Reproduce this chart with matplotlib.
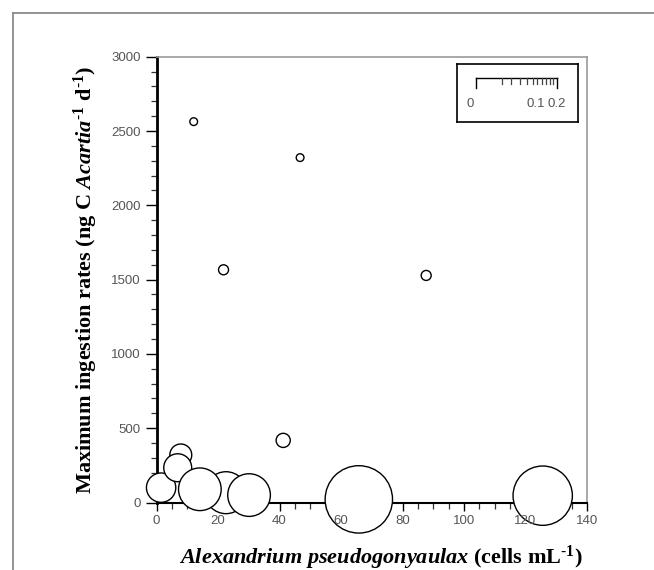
import matplotlib
matplotlib.use("Agg")
import matplotlib.pyplot as plt
from matplotlib.lines import Line2D
import numpy as np

# ---------------- data ----------------
cells = [22.6, 7.9, 1.5, 6.9, 14.1, 30.1, 65.8, 125.6, 41.2, 12.1, 46.7, 21.8, 87.7]
ingestion = [66, 320, 100, 234, 89, 50, 21, 46, 418, 2563, 2321, 1566, 1528]
bubble_value = [0.088, 0.024, 0.043, 0.039, 0.091, 0.091, 0.227, 0.176,
                0.010, 0.003, 0.003, 0.005, 0.005]

x_ticks = [0, 20, 40, 60, 80, 100, 120, 140]
y_ticks = [0, 500, 1000, 1500, 2000, 2500, 3000]
legend_labels = ["0", "0.1", "0.2"]

# ---------------- styling ----------------
plt.rcParams["mathtext.fontset"] = "custom"
plt.rcParams["mathtext.rm"] = "Liberation Serif:bold"
plt.rcParams["mathtext.it"] = "Liberation Serif:italic:bold"
plt.rcParams["mathtext.bf"] = "Liberation Serif:bold"

W, H = 654, 570
fig = plt.figure(figsize=(W / 100, H / 100), dpi=100)
fig.patch.set_facecolor("white")

# outer frame (top and left lines)
fig.add_artist(Line2D([13 / W, 1.0], [1 - 13 / H, 1 - 13 / H], color="#8a8a8a", lw=1.3))
fig.add_artist(Line2D([13 / W, 13 / W], [0, 1 - 13 / H], color="#8a8a8a", lw=1.3))

ax = fig.add_axes([156.5 / W, 1 - 502.5 / H, (587 - 156.5) / W, (502.5 - 56.7) / H])
ax.set_xlim(0, 140)
ax.set_ylim(0, 3000)

sizes = [v * 10368 for v in bubble_value]
ax.scatter(cells, ingestion, s=sizes, facecolor="white", edgecolor="black",
           linewidths=1.0, zorder=3, clip_on=False)

ax.set_xticks(x_ticks)
ax.set_yticks(y_ticks)
ax.set_xticks(np.arange(0, 141, 5), minor=True)
ax.set_yticks(np.arange(0, 3001, 100), minor=True)
ax.tick_params(axis="both", which="major", direction="out", colors="black",
               labelcolor="#555555", labelsize=9.5, width=1.0)
ax.tick_params(axis="y", which="major", length=8)
ax.tick_params(axis="x", which="major", length=6, labelbottom=False)
ax.tick_params(axis="both", which="minor", direction="out", length=4, width=0.9, colors="#333333")
for lab in ax.get_yticklabels():
    lab.set_fontfamily("Liberation Sans")

# x tick labels as texts drawn above the bubbles
for xt in x_ticks:
    ax.annotate(str(xt), xy=(xt, 0), xycoords=("data", "axes fraction"),
                xytext=(0, -13), textcoords="offset points", ha="center", va="center",
                fontsize=9.5, color="#555555", fontfamily="Liberation Sans",
                zorder=5, annotation_clip=False)

ax.spines["left"].set_linewidth(2.0)
ax.spines["bottom"].set_linewidth(1.5)
for s in ("top", "right"):
    ax.spines[s].set_color("#9a9a9a")
    ax.spines[s].set_linewidth(1.2)

ax.set_xlabel("$\\mathit{Alexandrium\\ pseudogonyaulax}$ (cells mL$^{\u20101}$)",
              fontfamily="Liberation Serif", fontweight="bold", fontsize=16, labelpad=22)
ax.xaxis.label.set_x(0.52)
ax.set_ylabel("Maximum ingestion rates (ng C $\\mathit{Acartia}^{\u20101}$ d$^{\u20101}$)",
              fontfamily="Liberation Serif", fontweight="bold", fontsize=16, labelpad=8)

# ---------------- size legend box ----------------
lax = fig.add_axes([457 / W, 1 - 121.7 / H, (578 - 457) / W, (121.7 - 64) / H])
lax.set_xlim(0, 1)
lax.set_ylim(0, 1)
lax.set_xticks([])
lax.set_yticks([])
for s in lax.spines.values():
    s.set_linewidth(1.2)
    s.set_color("black")
x0, x1, yb = 0.157, 0.826, 0.757
lax.plot([x0, x1], [yb, yb], color="black", lw=1.0)
tick_frac = [0.318, 0.434, 0.545, 0.636, 0.71, 0.756, 0.814, 0.864, 0.909, 0.95]
for f in [0.0, 1.0]:
    xx = x0 + f * (x1 - x0)
    lax.plot([xx, xx], [yb, 0.584], color="black", lw=1.0)
for f in tick_frac:
    xx = x0 + f * (x1 - x0)
    lax.plot([xx, xx], [yb, 0.66], color="#444444", lw=0.9)
for f, lab in zip([-0.07, 0.74, 1.0], legend_labels):
    lax.text(x0 + f * (x1 - x0), 0.30, lab, ha="center", va="center",
             fontsize=9.5, color="#555555", fontfamily="Liberation Sans")

fig.savefig("out.png", dpi=100)
